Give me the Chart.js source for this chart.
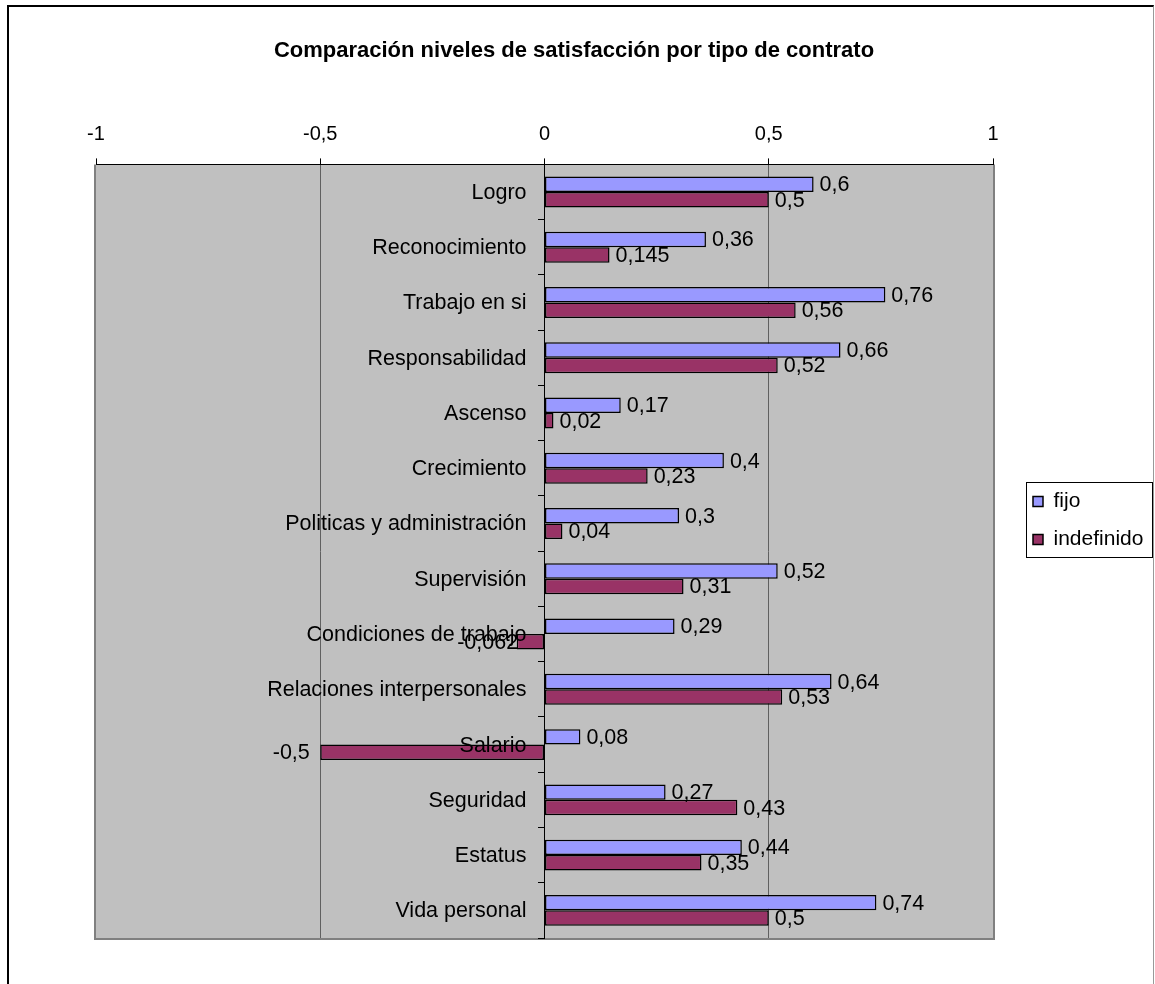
<!DOCTYPE html>
<html lang="es">
<head>
<meta charset="utf-8">
<title>Comparación niveles de satisfacción por tipo de contrato</title>
<script src="https://cdn.jsdelivr.net/npm/chart.js@4/dist/chart.umd.min.js"></script>
<style>
  html, body { margin: 0; padding: 0; background: #fff; overflow: hidden; }
  #wrap { position: relative; width: 1155px; height: 984px; }
  #chart { position: absolute; left: 0; top: 0; }
  #frame { position: absolute; left: 7px; top: 5px; width: 1144px; height: 1000px;
    border-left: 2px solid #000; border-top: 2px solid #000; border-right: 1px solid #999;
    pointer-events: none; }
</style>
</head>
<body>
<div id="wrap">
  <canvas id="chart" width="1155" height="984"></canvas>
  <div id="frame"></div>
</div>
<script>
// Satisfaction factors, top to bottom
const categories = [
  'Logro', 'Reconocimiento', 'Trabajo en si', 'Responsabilidad', 'Ascenso',
  'Crecimiento', 'Politicas y administración', 'Supervisión', 'Condiciones de trabajo',
  'Relaciones interpersonales', 'Salario', 'Seguridad', 'Estatus', 'Vida personal'
];
// Scores by contract type
const fijo = [0.6, 0.36, 0.76, 0.66, 0.17, 0.4, 0.3, 0.52, 0.29, 0.64, 0.08, 0.27, 0.44, 0.74];
const indefinido = [0.5, 0.145, 0.56, 0.52, 0.02, 0.23, 0.04, 0.31, -0.062, 0.53, -0.5, 0.43, 0.35, 0.5];
const seriesNames = ['fijo', 'indefinido'];
const xTicks = [-1, -0.5, 0, 0.5, 1];
const chartTitle = 'Comparación niveles de satisfacción por tipo de contrato';

const FONT = "'Liberation Sans', Arial, sans-serif";
const fmt = v => String(v).replace('.', ',');

// Gray plot background with a gray outline on the left, right and bottom
const plotBackground = {
  id: 'plotBackground',
  beforeDraw(chart) {
    const { ctx, chartArea: a } = chart;
    ctx.save();
    ctx.fillStyle = '#C0C0C0';
    ctx.fillRect(a.left, a.top, a.right - a.left, a.bottom - a.top);
    ctx.strokeStyle = '#808080';
    ctx.lineWidth = 2;
    ctx.beginPath();
    ctx.moveTo(a.left - 1, a.top);
    ctx.lineTo(a.left - 1, a.bottom + 1);
    ctx.lineTo(a.right + 1, a.bottom + 1);
    ctx.lineTo(a.right + 1, a.top);
    ctx.stroke();
    ctx.restore();
  }
};

// Category names beside the zero line, and value labels at the end of each bar
const barText = {
  id: 'barText',
  afterDatasetsDraw(chart) {
    const { ctx } = chart;
    const xs = chart.scales.x, ys = chart.scales.y;
    const zero = xs.getPixelForValue(0);
    ctx.save();
    ctx.font = `21.5px ${FONT}`;
    ctx.fillStyle = '#000';
    ctx.textBaseline = 'middle';
    ctx.textAlign = 'right';
    categories.forEach((name, i) => {
      ctx.fillText(name, zero - 18, ys.getPixelForValue(i) + 1);
    });
    chart.data.datasets.forEach((ds, d) => {
      const meta = chart.getDatasetMeta(d);
      meta.data.forEach((el, i) => {
        const v = ds.data[i];
        if (v >= 0) {
          ctx.textAlign = 'left';
          ctx.fillText(fmt(v), el.x + 6, el.y + 1);
        } else {
          ctx.textAlign = 'center';
          ctx.fillText(fmt(v), el.x - 29, el.y + 1);
        }
      });
    });
    ctx.restore();
  }
};

// Legend placed beside the plot, inside a thin black box
const LEGEND_BOX = { left: 1026, top: 482, width: 126, height: 75 };
const legendBox = {
  id: 'legendBox',
  afterLayout(chart) {
    const L = chart.legend;
    if (!L) return;
    L.left = LEGEND_BOX.left - 10;
    L.right = LEGEND_BOX.left + LEGEND_BOX.width;
    L.width = L.right - L.left;
    L.top = LEGEND_BOX.top - 8;
    L.bottom = chart.chartArea.bottom;
    L.height = L.bottom - L.top;
  },
  afterDraw(chart) {
    const { ctx } = chart;
    ctx.save();
    ctx.strokeStyle = '#000';
    ctx.lineWidth = 1;
    ctx.strokeRect(LEGEND_BOX.left + 0.5, LEGEND_BOX.top + 0.5, LEGEND_BOX.width, LEGEND_BOX.height);
    ctx.restore();
  }
};

const colors = ['#9999FF', '#993366'];
const seriesData = [fijo, indefinido];

new Chart(document.getElementById('chart'), {
  type: 'bar',
  data: {
    labels: categories,
    datasets: seriesNames.map((name, k) => ({
      label: name,
      data: seriesData[k],
      backgroundColor: colors[k],
      borderColor: '#000',
      borderWidth: 1.5,
      borderSkipped: false,
      categoryPercentage: 0.56,
      barPercentage: 1.0
    }))
  },
  options: {
    indexAxis: 'y',
    responsive: false,
    animation: false,
    devicePixelRatio: 1,
    events: [],
    layout: { padding: { left: 96, right: 103, top: 0, bottom: 46 } },
    scales: {
      x: {
        type: 'linear',
        position: 'top',
        min: -1,
        max: 1,
        afterBuildTicks: s => { s.ticks = xTicks.map(v => ({ value: v })); },
        ticks: {
          color: '#000',
          padding: 12,
          font: { family: FONT, size: 20 },
          callback: v => fmt(v)
        },
        grid: {
          color: c => {
            const v = c.tick ? c.tick.value : null;
            if (v === -1 || v === 1) return 'rgba(0,0,0,0)';
            if (v === 0) return '#000';
            return '#606060';
          },
          lineWidth: 1,
          tickColor: '#000',
          tickLength: 6,
          drawTicks: true
        },
        border: { display: true, color: '#000', width: 1 }
      },
      y: {
        type: 'category',
        position: { x: 0 },
        offset: true,
        ticks: { display: false },
        grid: {
          display: true,
          drawOnChartArea: false,
          drawTicks: true,
          tickLength: 6,
          offset: true,
          color: '#000',
          tickColor: '#000'
        },
        border: { display: true, color: '#000', width: 1 }
      }
    },
    plugins: {
      title: {
        display: true,
        text: chartTitle,
        color: '#000',
        font: { family: FONT, size: 22, weight: 'bold' },
        padding: { top: 38, bottom: 46 }
      },
      legend: {
        display: true,
        position: 'right',
        align: 'start',
        fullSize: false,
        maxWidth: 59,
        labels: {
          boxWidth: 10,
          boxHeight: 10,
          padding: 17,
          color: '#000',
          font: { family: FONT, size: 21 }
        }
      },
      tooltip: { enabled: false }
    }
  },
  plugins: [plotBackground, barText, legendBox]
});
</script>
</body>
</html>
